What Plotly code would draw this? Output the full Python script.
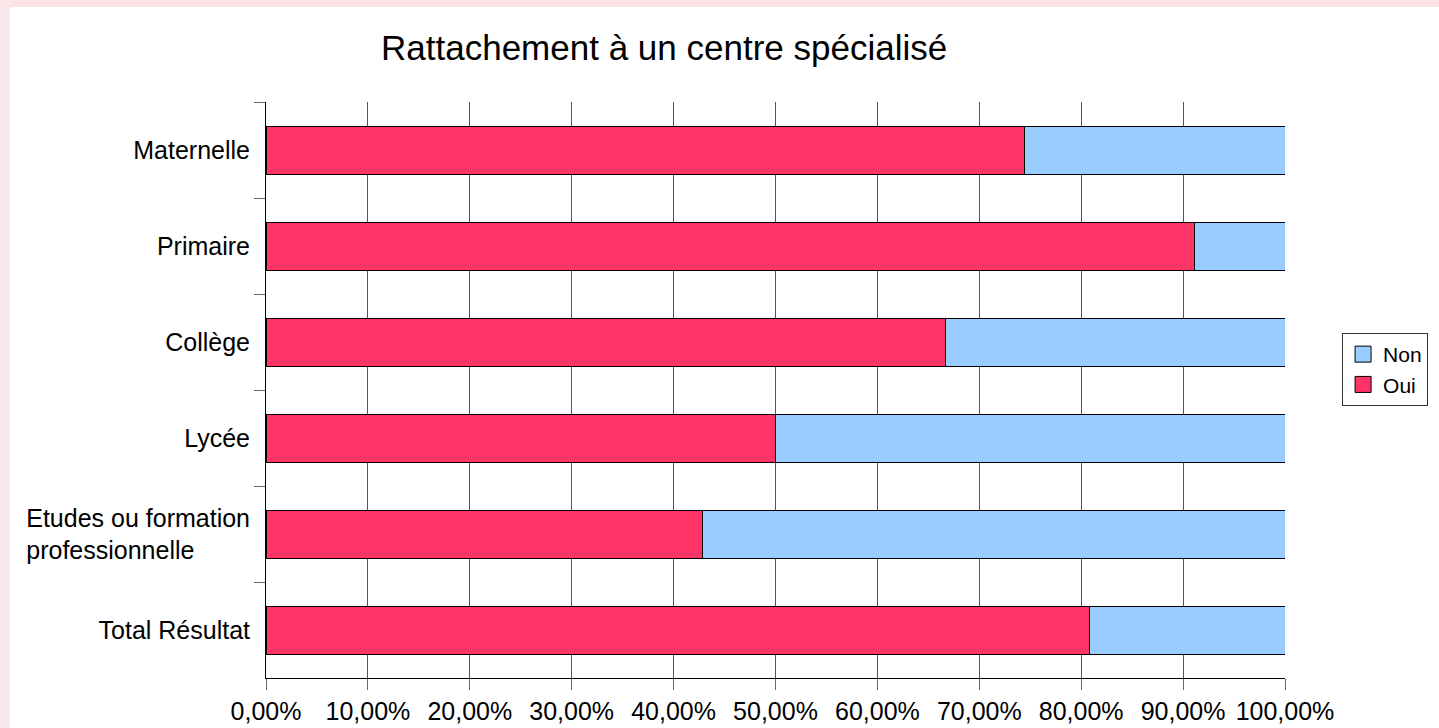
import plotly.graph_objects as go

# Données
niveaux = ["Maternelle", "Primaire", "Collège", "Lycée",
           "Etudes ou formation<br>professionnelle" + "\u00a0" * 8, "Total Résultat"]
oui = [0.744, 0.911, 0.6667, 0.50, 0.4286, 0.808]
non = [1 - v for v in oui]

couleur_oui = "#FF3366"
couleur_non = "#99CCFF"

fig = go.Figure()

fig.add_trace(go.Bar(
    y=niveaux, x=oui, name="Oui", orientation="h", showlegend=False,
    marker=dict(color=couleur_oui, line=dict(color="black", width=1))
))
fig.add_trace(go.Bar(
    y=niveaux, x=non, name="Non", orientation="h", showlegend=False,
    marker=dict(color=couleur_non, line=dict(color="black", width=1))
))

# entrées de légende (carrés plus grands que ceux des barres)
for nom, coul in [("Oui", couleur_oui), ("Non", couleur_non)]:
    fig.add_trace(go.Scatter(
        x=[None], y=[None], mode="markers", name=nom,
        marker=dict(symbol="square", size=20, color=coul,
                    line=dict(color="black", width=1))
    ))

fig.update_layout(
    barmode="stack",
    bargap=0.5,
    width=1439, height=728,
    margin=dict(l=266, r=154, t=102, b=50, autoexpand=False),
    paper_bgcolor="white",
    plot_bgcolor="white",
    separators=", ",
    font=dict(family="Liberation Sans, Arial", size=25, color="black"),
    title=dict(text="Rattachement à un centre spécialisé", font=dict(size=35),
               x=0.4615, xref="container", xanchor="center",
               y=0.934, yanchor="middle"),
    legend=dict(x=1.056, y=0.599, xanchor="left", yanchor="top",
                traceorder="reversed", bordercolor="#333", borderwidth=1,
                font=dict(size=21), bgcolor="white", itemsizing="trace",
                itemwidth=30),
    xaxis=dict(range=[0, 1], dtick=0.1, tickformat=".2%",
               showgrid=True, gridcolor="#555", gridwidth=1,
               showline=True, linecolor="black", linewidth=1,
               ticks="outside", ticklen=11, tickcolor="#666", zeroline=False,
               ticklabelstandoff=0, automargin=False),
    yaxis=dict(autorange="reversed", showgrid=False,
               showline=True, linecolor="black", linewidth=1,
               ticks="outside", ticklen=11, tickcolor="#666",
               tickson="boundaries", ticklabelstandoff=10, automargin=False),
    shapes=[
        dict(type="rect", xref="paper", yref="paper",
             x0=-266 / 1019, x1=1173 / 1019, y0=1 + 95 / 575.5, y1=1 + 102 / 575.5,
             fillcolor="#FDE2E6", line=dict(width=0), layer="below"),
        dict(type="rect", xref="paper", yref="paper",
             x0=-266 / 1019, x1=-256 / 1019, y0=-50 / 575.5, y1=1 + 102 / 575.5,
             fillcolor="#FAE8EC", line=dict(width=0), layer="below"),
    ],
)

fig.write_html("out.html", config={"displayModeBar": False},
               post_script="document.body.style.margin='0';")
